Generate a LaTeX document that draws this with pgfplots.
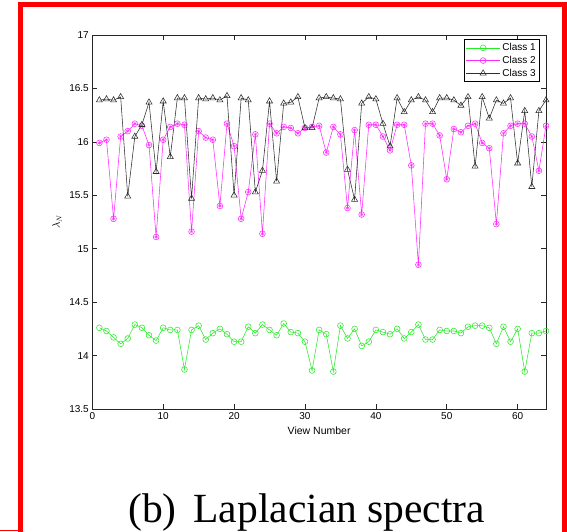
\documentclass[border=0pt]{standalone}
\usepackage{pgfplots}
\pgfplotsset{compat=1.18}
\usepackage{fontspec}
\setmainfont{Liberation Sans}
\newfontfamily\capfont{Liberation Serif}

\definecolor{cone}{RGB}{40,235,40}
\definecolor{ctwo}{RGB}{255,40,255}
\definecolor{cthree}{RGB}{45,45,45}

% lambda_N for each view, per class
\pgfplotstableread{
n  c1     c2     c3
1  14.26  15.99  16.39
2  14.23  16.02  16.40
3  14.17  15.28  16.39
4  14.11  16.05  16.42
5  14.16  16.10  15.49
6  14.29  16.17  16.05
7  14.26  16.15  16.16
8  14.19  15.97  16.37
9  14.14  15.11  15.72
10 14.26  16.02  16.38
11 14.24  16.14  15.86
12 14.24  16.17  16.41
13 13.87  16.16  16.41
14 14.24  15.16  15.47
15 14.28  16.10  16.41
16 14.15  16.04  16.40
17 14.21  16.02  16.41
18 14.25  15.40  16.39
19 14.20  16.17  16.43
20 14.13  15.96  15.50
21 14.13  15.28  16.41
22 14.27  15.53  16.39
23 14.21  16.07  15.53
24 14.29  15.14  15.73
25 14.24  16.17  16.38
26 14.19  16.08  15.63
27 14.30  16.14  16.36
28 14.22  16.13  16.37
29 14.21  16.08  16.42
30 14.13  16.13  16.13
31 13.86  16.14  16.13
32 14.24  16.15  16.41
33 14.20  15.90  16.42
34 13.85  16.14  16.41
35 14.28  16.07  16.40
36 14.16  15.38  15.74
37 14.25  16.11  15.46
38 14.09  15.32  16.36
39 14.13  16.16  16.42
40 14.24  16.16  16.40
41 14.22  16.05  16.17
42 14.20  15.92  15.96
43 14.25  16.16  16.41
44 14.16  16.16  16.28
45 14.22  15.78  16.39
46 14.29  14.85  16.42
47 14.15  16.17  16.39
48 14.15  16.17  16.28
49 14.24  16.06  16.41
50 14.23  15.65  16.41
51 14.23  16.12  16.39
52 14.21  16.09  16.34
53 14.27  16.15  16.42
54 14.28  16.17  15.77
55 14.28  15.99  16.42
56 14.26  15.94  16.22
57 14.11  15.23  16.39
58 14.27  16.08  16.36
59 14.13  16.15  16.41
60 14.25  16.17  15.80
61 13.85  16.17  16.29
62 14.21  16.05  15.58
63 14.21  15.73  16.29
64 14.23  16.15  16.39
}\spectra

\begin{document}
\begin{tikzpicture}[x=1pt,y=1pt]
\path[use as bounding box] (0,0) rectangle (567,532);

% frame around the panel
\draw[red, line width=5pt, line join=miter] (20.5,-20) -- (20.5,527.5) -- (564.5,527.5) -- (564.5,-20);
\draw[red, line width=1pt] (0,1.2) -- (20,1.2);

\begin{axis}[
  at={(92.3pt,123pt)}, anchor=south west,
  scale only axis, width=453.7pt, height=374pt,
  xmin=0, xmax=64, ymin=13.5, ymax=17,
  xtick={0,10,20,30,40,50,60},
  ytick={13.5,14,14.5,15,15.5,16,16.5,17},
  tick align=inside, major tick length=5pt,
  axis line style={line width=0.7pt, black!85},
  every tick/.style={line width=0.6pt, black!85},
  /pgf/number format/assume math mode=true,
  tick label style={font=\fontsize{10}{12}\selectfont},
  xlabel={View Number},
  ylabel={$\lambda_N$},
  label style={font=\fontsize{10.5}{12}\selectfont},
  xlabel style={at={(axis description cs:0.5,-0.058)}, anchor=center},
  ylabel style={at={(axis description cs:-0.078,0.5)}, anchor=center},
  legend style={at={(0.987,0.989)}, anchor=north east, draw=black, line width=0.7pt,
    font=\fontsize{10}{11}\selectfont, inner sep=2pt, row sep=0pt},
  legend cell align=left,
  legend image code/.code={\draw[mark repeat=2,mark phase=2] plot coordinates {(0pt,0pt) (17pt,0pt) (34pt,0pt)};},
]
\addplot[cone, line width=0.55pt, mark=o, mark size=2.9pt, mark options={line width=0.55pt}] table[x=n,y=c1] {\spectra};
\addlegendentry{Class 1}
\addplot[ctwo, line width=0.55pt, mark=o, mark size=2.9pt, mark options={line width=0.55pt}] table[x=n,y=c2] {\spectra};
\addlegendentry{Class 2}
\addplot[ctwo, only marks, mark=asterisk, mark size=1.8pt, mark options={line width=0.4pt}, forget plot] table[x=n,y=c2] {\spectra};
\addplot[cthree, line width=0.55pt, mark=triangle, mark size=3.5pt, mark options={line width=0.55pt}] table[x=n,y=c3] {\spectra};
\addlegendentry{Class 3}
\end{axis}

\node[anchor=base west, inner sep=0, font=\capfont\fontsize{41.5}{45}\selectfont] at (128,9) {(b)\hspace{17pt}Laplacian spectra};
\end{tikzpicture}
\end{document}
